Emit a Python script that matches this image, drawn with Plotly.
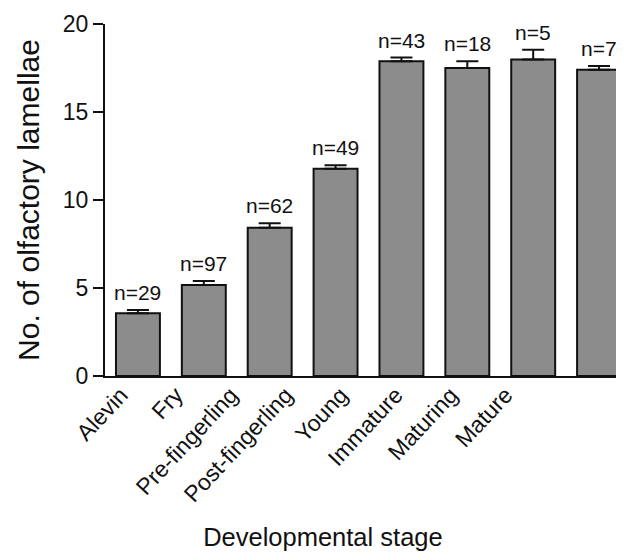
import plotly.graph_objects as go

stages = ["Alevin", "Fry", "Pre-fingerling", "Post-fingerling", "Young", "Immature", "Maturing", "Mature"]
means = [3.56, 5.17, 8.43, 11.78, 17.88, 17.5, 17.99, 17.40]
sems = [0.19, 0.23, 0.25, 0.19, 0.21, 0.38, 0.55, 0.21]
ns = ["n=29", "n=97", "n=62", "n=49", "n=43", "n=18", "n=5", "n=7"]

FONT = "Liberation Sans, Arial, sans-serif"
idx = list(range(len(stages)))

fig = go.Figure()
fig.add_trace(go.Bar(
    x=idx, y=means,
    width=0.667,
    marker=dict(color="#8c8c8c", line=dict(color="#111111", width=2)),
    error_y=dict(type="data", array=sems, arrayminus=[0]*len(sems), symmetric=False,
                 color="#111111", thickness=2, width=11),
))
# invisible helper trace carrying the (more tightly spaced) category labels
fig.add_trace(go.Scatter(
    x=idx, y=[0]*len(idx), xaxis="x2", yaxis="y", mode="markers",
    marker=dict(opacity=0), hoverinfo="skip", showlegend=False,
))

for i, (m, s, n) in enumerate(zip(means, sems, ns)):
    fig.add_annotation(x=i, y=m + s, xref="x", yref="y", text=n, showarrow=False,
                       yanchor="bottom", yshift=4,
                       font=dict(family=FONT, size=21, color="#111111"))

fig.update_layout(
    width=624, height=560,
    margin=dict(l=97, r=0, t=16, b=192),
    paper_bgcolor="white", plot_bgcolor="rgba(0,0,0,0)",
    showlegend=False,
    font=dict(family=FONT, color="#111111"),
    xaxis=dict(
        domain=[0, 1], range=[-0.5, 7.5], showticklabels=False, ticks="",
        showline=True, linecolor="#111111", linewidth=2,
        showgrid=False, zeroline=False,
    ),
    xaxis2=dict(
        anchor="y", side="bottom",
        domain=[0, 0.827], range=[-0.29, 7.64],
        tickmode="array", tickvals=idx, ticktext=stages,
        tickangle=-47, tickfont=dict(size=23), ticks="",
        showline=False, showgrid=False, zeroline=False,
        title=dict(text="Developmental stage", font=dict(size=25.5), standoff=21),
    ),
    yaxis=dict(
        anchor="x",
        range=[0, 20], tickvals=[0, 5, 10, 15, 20], tickfont=dict(size=23),
        showline=True, linecolor="#111111", linewidth=2, ticks="outside",
        ticklen=10, tickwidth=2, tickcolor="#111111",
        title=dict(text="No. of olfactory lamellae", font=dict(size=30), standoff=14),
        showgrid=False, zeroline=False,
    ),
)

fig.write_html("out.html")
